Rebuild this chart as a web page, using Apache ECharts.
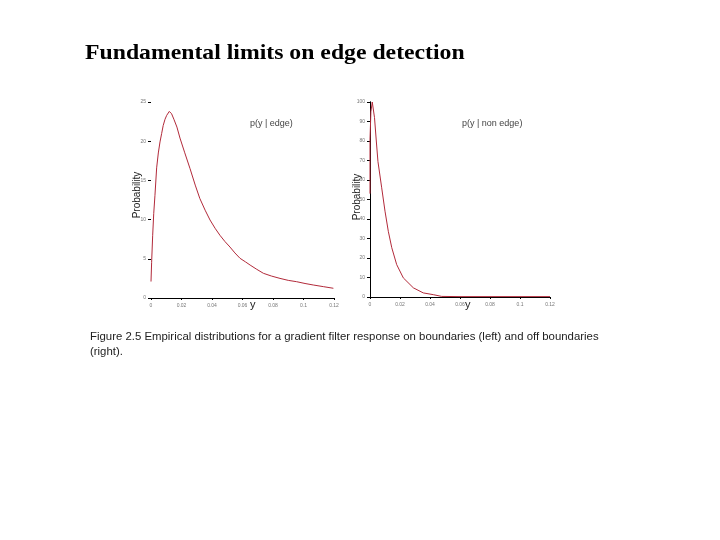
<!DOCTYPE html>
<html>
<head>
<meta charset="utf-8">
<script src="https://cdn.jsdelivr.net/npm/echarts@6/dist/echarts.min.js"></script>
<style>
html,body{margin:0;padding:0;background:#fff;}
#c{width:720px;height:540px;}
</style>
</head>
<body>
<div id="c"></div>
<script>
// Left panel: p(y | edge)
var edgeX = [0.0, 0.0004, 0.0011, 0.0018, 0.0026, 0.0037, 0.0048, 0.0059, 0.007, 0.008, 0.0092, 0.0103, 0.012, 0.0135, 0.015, 0.017, 0.019, 0.022, 0.0256, 0.029, 0.032, 0.0355, 0.0387, 0.042, 0.0452, 0.0485, 0.0518, 0.055, 0.0584, 0.062, 0.065, 0.069, 0.0737, 0.079, 0.0846, 0.09, 0.0955, 0.101, 0.1064, 0.113, 0.1196];
var edgeP = [2.1, 4.5, 8.0, 10.8, 13.1, 16.6, 18.5, 19.9, 21.0, 22.0, 22.8, 23.3, 23.8, 23.5, 22.8, 21.8, 20.4, 18.6, 16.5, 14.4, 12.7, 11.2, 9.95, 8.9, 8.0, 7.2, 6.5, 5.75, 5.06, 4.6, 4.2, 3.7, 3.15, 2.8, 2.5, 2.25, 2.08, 1.85, 1.66, 1.45, 1.24];

// Right panel: p(y | non edge)
var nonEdgeX = [0.0, 0.0, 0.0006, 0.0015, 0.003, 0.0042, 0.0053, 0.0078, 0.01, 0.0122, 0.0145, 0.0178, 0.0222, 0.0289, 0.0355, 0.0422, 0.0478, 0.06, 0.08, 0.1, 0.12];
var nonEdgeP = [53, 81, 95, 100, 92, 80, 69.5, 56, 44, 33.7, 25.3, 16.6, 9.8, 4.7, 2.1, 1.2, 0.3, 0.2, 0.2, 0.2, 0.2];

var xTicks = {min: 0, max: 0.12, interval: 0.02};
var leftY = {min: 0, max: 25, interval: 5};
var rightY = {min: 0, max: 100, interval: 10};

var titleText = 'Fundamental limits on edge detection';
var captionLines = ['Figure 2.5 Empirical distributions for a gradient filter response on boundaries (left) and off boundaries', '(right).'];
var leftLegend = 'p(y | edge)';
var rightLegend = 'p(y | non edge)';
var yName = 'Probability';
var xName = 'y';

function pairs(xs, ys) { return xs.map(function (x, i) { return [x, ys[i]]; }); }

var chart = echarts.init(document.getElementById('c'));
var lblStyle = {fontSize: 5, color: '#777', fontFamily: 'Liberation Sans'};
var curveColor = '#b22a3a';

function mainX(gi) {
  return {type: 'value', gridIndex: gi, position: 'bottom', min: xTicks.min, max: xTicks.max, interval: xTicks.interval,
    axisLine: {show: true, lineStyle: {color: '#000', width: 1}},
    axisTick: {show: false}, splitLine: {show: false},
    axisLabel: Object.assign({margin: 5}, lblStyle)};
}
function topX(gi) {
  return {type: 'value', gridIndex: gi, position: 'top', min: xTicks.min, max: xTicks.max, interval: xTicks.interval,
    axisLine: {show: false}, axisTick: {show: true, inside: true, length: 2, lineStyle: {color: '#000'}},
    axisLabel: {show: false}, splitLine: {show: false}};
}
function leftYAxis(gi, r, showLine) {
  return {type: 'value', gridIndex: gi, position: 'left', min: r.min, max: r.max, interval: r.interval,
    axisLine: {show: showLine, lineStyle: {color: '#000', width: 1}},
    axisTick: {show: true, inside: false, length: 2, lineStyle: {color: '#000'}},
    splitLine: {show: false}, axisLabel: Object.assign({margin: 5}, lblStyle)};
}
function rightYAxis(gi, r, showLine) {
  return {type: 'value', gridIndex: gi, position: 'right', min: r.min, max: r.max, interval: r.interval,
    axisLine: {show: showLine, lineStyle: {color: '#000', width: 1}},
    axisTick: {show: true, inside: true, length: 3, lineStyle: {color: '#000'}},
    splitLine: {show: false}, axisLabel: {show: false}};
}

chart.setOption({
  animation: false,
  backgroundColor: '#fff',
  grid: [
    {left: 151, top: 102, width: 183, height: 196},
    {left: 370, top: 102, width: 180, height: 195}
  ],
  xAxis: [mainX(0), topX(0), mainX(1), topX(1)],
  yAxis: [leftYAxis(0, leftY, false), rightYAxis(0, leftY, false), leftYAxis(1, rightY, true), rightYAxis(1, rightY, true)],
  series: [
    {type: 'line', xAxisIndex: 0, yAxisIndex: 0, data: pairs(edgeX, edgeP), showSymbol: false, smooth: false,
      lineStyle: {color: curveColor, width: 1}},
    {type: 'line', xAxisIndex: 2, yAxisIndex: 2, data: pairs(nonEdgeX, nonEdgeP), showSymbol: false, smooth: false,
      lineStyle: {color: curveColor, width: 1}}
  ],
  graphic: [
    {type: 'text', x: 85, y: 43, scaleX: 1.13, style: {text: titleText, font: 'bold 21px "Liberation Serif"', fill: '#000'}},
    {type: 'text', left: 250, top: 119, style: {text: leftLegend, font: '9px "Liberation Sans"', fill: '#444'}},
    {type: 'text', left: 462, top: 119, style: {text: rightLegend, font: '9px "Liberation Sans"', fill: '#444'}},
    {type: 'text', x: 137, y: 195, rotation: Math.PI / 2, style: {text: yName, font: '10px "Liberation Sans"', fill: '#222', align: 'center', verticalAlign: 'middle'}},
    {type: 'text', x: 357, y: 197, rotation: Math.PI / 2, style: {text: yName, font: '10px "Liberation Sans"', fill: '#222', align: 'center', verticalAlign: 'middle'}},
    {type: 'text', left: 250, top: 299, style: {text: xName, font: '11px "Liberation Sans"', fill: '#222'}},
    {type: 'text', left: 465, top: 299, style: {text: xName, font: '11px "Liberation Sans"', fill: '#222'}},
    {type: 'text', x: 90, y: 331, scaleX: 1.035, style: {text: captionLines[0], font: '11px "Liberation Sans"', fill: '#222'}},
    {type: 'text', x: 90, y: 346, scaleX: 1.035, style: {text: captionLines[1], font: '11px "Liberation Sans"', fill: '#222'}}
  ]
});
</script>
</body>
</html>
